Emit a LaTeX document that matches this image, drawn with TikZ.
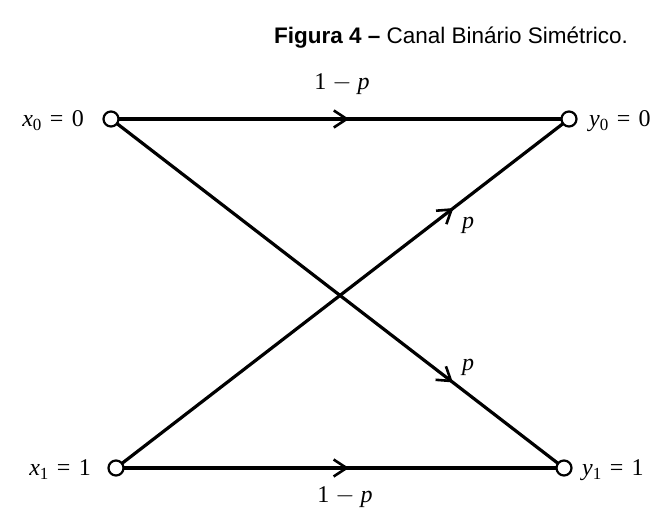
\documentclass[tikz,border=0pt]{standalone}
\usepackage{fontspec}
\setmainfont{Liberation Serif}
\newfontfamily\titlefont{Liberation Sans}
\usetikzlibrary{arrows.meta,decorations.markings}
\tikzset{
  term/.style={circle,draw,line width=2.2pt,minimum size=15pt,inner sep=0pt,fill=white},
  lbl/.style={font=\fontsize{24}{28}\selectfont,inner sep=0pt},
  chan/.style={line width=3.2pt,shorten <=-0.5pt,shorten >=-0.5pt},
  midarrow/.style={postaction={decorate},decoration={markings,
     mark=at position #1 with {\arrow{Straight Barb[length=13pt,width=17pt,line width=2.6pt]}}}}
}
\newcommand{\eqsp}{\hspace{0.35em}=\hspace{0.35em}}
\begin{document}
\begin{tikzpicture}[x=1pt,y=-1pt]
\useasboundingbox[fill=white] (0,0) rectangle (665,513);
\node[font=\titlefont\fontsize{22.5}{27}\selectfont,inner sep=0pt] (title) at (451,38) {\textbf{Figura 4 –} Canal Binário Simétrico.};
\coordinate (c0) at (111,119);
\coordinate (d0) at (569,119);
\coordinate (c1) at (116,468);
\coordinate (d1) at (564,468);
\draw[chan,midarrow=0.52] (c0) -- (d0);
\draw[chan,midarrow=0.52] (c1) -- (d1);
\draw[chan,midarrow=0.745] (c1) -- (d0);
\draw[chan,midarrow=0.755] (c0) -- (d1);
\node[term] (x0) at (c0) {};
\node[term] (y0) at (d0) {};
\node[term] (x1) at (c1) {};
\node[term] (y1) at (d1) {};
\node[lbl,anchor=east] (lx0) at (84,121) {\textit{x}\raisebox{-0.35ex}{\fontsize{17}{17}\selectfont 0}\eqsp 0};
\node[lbl,anchor=west] (ly0) at (589,121) {\textit{y}\raisebox{-0.35ex}{\fontsize{17}{17}\selectfont 0}\eqsp 0};
\node[lbl,anchor=east] (lx1) at (91,470) {\textit{x}\raisebox{-0.35ex}{\fontsize{17}{17}\selectfont 1}\eqsp 1};
\node[lbl,anchor=west] (ly1) at (582,470) {\textit{y}\raisebox{-0.35ex}{\fontsize{17}{17}\selectfont 1}\eqsp 1};
\node[lbl] (p00) at (342,84) {1 $-$ \textit{p}};
\node[lbl] (p11) at (345,497) {1 $-$ \textit{p}};
\node[lbl] (p10) at (468,225) {\textit{p}};
\node[lbl] (p01) at (468,367) {\textit{p}};
\end{tikzpicture}
\end{document}
